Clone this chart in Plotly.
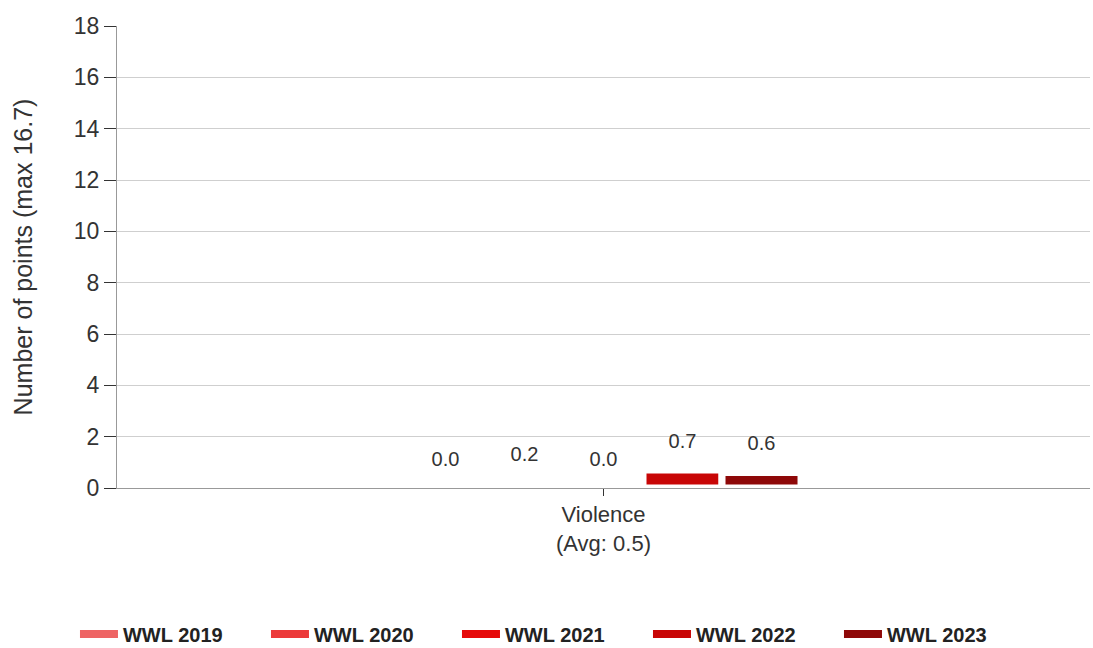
import plotly.graph_objects as go

categories = ["Violence<br>(Avg: 0.5)"]
series_names = ["WWL 2019", "WWL 2020", "WWL 2021", "WWL 2022", "WWL 2023"]
series_values = [[0.0], [0.2], [0.0], [0.7], [0.6]]
series_colors = ["#EE6464", "#EC3A3A", "#E60A0A", "#C80606", "#8E0808"]
y_ticks = [0, 2, 4, 6, 8, 10, 12, 14, 16, 18]

FONT = "Liberation Sans, Arial, sans-serif"

fig = go.Figure()
for name, vals, col in zip(series_names, series_values, series_colors):
    fig.add_trace(go.Bar(
        x=categories, y=vals, name=name, showlegend=False,
        marker=dict(color=col, line=dict(width=7, color="white")),
        hoverinfo="x+y",
    ))
# value labels, grouped like the bars
for name, vals in zip(series_names, series_values):
    fig.add_trace(go.Scatter(
        x=categories, y=vals, mode="markers+text", showlegend=False,
        text=[f"{v:.1f}" for v in vals], textposition="top center",
        textfont=dict(size=20, color="#333333", family=FONT),
        marker=dict(size=26, color="rgba(0,0,0,0)"),
        hoverinfo="skip", cliponaxis=False,
    ))
# legend entries (wide swatches), on hidden overlay axes so they don't affect grouping
for name, col in zip(series_names, series_colors):
    fig.add_trace(go.Scatter(
        x=[None], y=[None], mode="lines", name=name, xaxis="x2", yaxis="y2",
        line=dict(color=col, width=8), showlegend=True, hoverinfo="skip",
    ))

fig.update_layout(
    width=1093, height=648,
    margin=dict(l=117, r=3, t=26, b=160),
    paper_bgcolor="white", plot_bgcolor="white",
    font=dict(family=FONT, size=22, color="#333333"),
    barmode="group", bargap=0.594, bargroupgap=0.0,
    scattermode="group", scattergap=0.594,
    showlegend=True,
    legend=dict(orientation="h", xref="container", yref="container",
                x=0.0686, xanchor="left", y=0.0216, yanchor="middle",
                font=dict(size=20, color="#222222", family=FONT, weight="bold"),
                entrywidth=138, entrywidthmode="pixels", itemwidth=38, tracegroupgap=0,
                bgcolor="rgba(0,0,0,0)"),
    xaxis=dict(showline=True, linecolor="#999999", linewidth=1, ticks="outside",
               ticklen=7, tickcolor="#333333", tickfont=dict(size=22)),
    yaxis=dict(range=[0, 18], tickvals=y_ticks, showgrid=True, gridcolor="#cfcfcf",
               showline=True, linecolor="#999999", ticks="outside", ticklen=12,
               tickcolor="#333333", tickfont=dict(size=23), zeroline=False,
               title=dict(text="Number of points (max 16.7)", font=dict(size=25), standoff=34)),
    xaxis2=dict(overlaying="x", visible=False),
    yaxis2=dict(overlaying="y", visible=False),
)

fig.write_html("out.html", config={"displayModeBar": False},
               post_script="document.body.style.margin='0';")
